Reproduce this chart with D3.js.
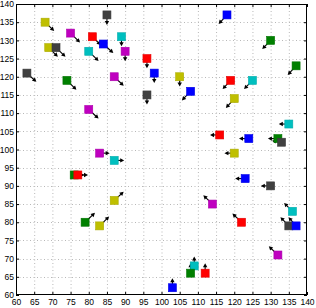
<!DOCTYPE html>
<html><head><meta charset="utf-8">
<script src="https://cdn.jsdelivr.net/npm/d3@7"></script>
<style>body{margin:0;background:#fff}svg{display:block}text{font-family:"Liberation Sans",Arial,sans-serif;font-size:8.5px;fill:#000}</style>
</head><body><svg id="c" width="316" height="308"></svg>
<script>
// data
const groups = ["olive","purple","gray","red","blue","cyan","green"];
const groupColors = ["#bfbf00","#bf00bf","#404040","#ff0000","#0000ff","#00bfbf","#008000"];
const xs = [68,75,85,81,84,89,69,71,80,90,96,98,63,74,87,96,118,130,137,119,125,105,108,120,80,83,87,76,77,87,135,116,124,132,133,120,123,130,114,136,79,83,122,135,137,132,109,108,112,103];
const ys = [135,132,137,131,129,131,128,128,127,127,125,121,121,119,120,115,137,130,123,119,119,120,116,114,111,99,97,93,93,86,107,104,103,103,102,99,92,90,85,83,80,79,80,79,79,71,68,66,66,62];
const us = [2.5,2.6,0,2.3,2.75,0,2.5,2.6,2.7,0,0,0,2.6,2.6,2.6,0,-2.3,-2.3,-2.3,-2.2,-2.3,0,-2.4,-2.3,2.7,2.75,2.75,2.75,2.8,2.6,-2.75,-2.65,-2.7,-2.75,-2.6,-2.7,-2.75,-2.7,-2.5,-2.3,2.7,2.6,-2.5,-2.3,-2.1,-2.5,0,0,0,0];
const vs = [-2.4,-2.6,-2.75,-2.3,-2.5,-2.6,-2.5,-2.5,-2.7,-2.75,-2.65,-2.75,-2.4,-2.6,-2.5,-2.6,-2.5,-2.4,-2.5,-2.4,-2.4,-2.7,-2.5,-2.6,-2.5,0,0,0,0,2.4,0,0,0,0,0.4,0,0,0,2.4,2.3,2.6,2.6,2.4,2.4,2.4,2.4,2.6,2.7,2.7,2.6];
const grp = ["olive","purple","gray","red","blue","cyan","olive","gray","cyan","purple","red","blue","gray","green","purple","gray","blue","green","green","red","cyan","olive","blue","olive","purple","purple","cyan","green","red","olive","cyan","red","blue","green","gray","olive","blue","gray","purple","cyan","green","olive","red","gray","blue","purple","cyan","green","red","blue"];
const xTicks = d3.range(60,141,5);
const yTicks = d3.range(60,141,5);

const svg = d3.select("#c");
const L=16, R=307, T=4, B=295;
const x = d3.scaleLinear().domain([60,140]).range([L,R]);
const y = d3.scaleLinear().domain([60,140]).range([B,T]);
const color = d3.scaleOrdinal().domain(groups).range(groupColors);

// grid
const g = svg.append("g");
g.selectAll("line.gx").data(xTicks.slice(1,-1)).join("line")
  .attr("x1",d=>x(d)+0.5).attr("x2",d=>x(d)+0.5).attr("y1",T).attr("y2",B)
  .attr("stroke","#b8b8b8").attr("stroke-width",1).attr("stroke-dasharray","1,2.5");
g.selectAll("line.gy").data(yTicks.slice(1,-1)).join("line")
  .attr("y1",d=>Math.round(y(d))+0.5).attr("y2",d=>Math.round(y(d))+0.5).attr("x1",L).attr("x2",R)
  .attr("stroke","#b8b8b8").attr("stroke-width",1).attr("stroke-dasharray","1,2.5");

// axes
const ax = d3.axisBottom(x).tickValues(xTicks).tickSize(-3).tickPadding(4);
const ay = d3.axisLeft(y).tickValues(yTicks).tickSize(-3).tickPadding(2);
const axT = d3.axisTop(x).tickValues(xTicks).tickSize(-3).tickFormat("");
const ayR = d3.axisRight(y).tickValues(yTicks).tickSize(-3).tickFormat("");
function style(sel){sel.select(".domain").remove();sel.selectAll("line").attr("stroke","#000");sel.selectAll("text").attr("font-size",8.5).attr("font-family","Liberation Sans, Arial, sans-serif");}
svg.append("g").attr("transform",`translate(0,${B})`).call(ax).call(style);
svg.append("g").attr("transform",`translate(${L},0)`).call(ay).call(style);
svg.append("g").attr("transform",`translate(0,${T})`).call(axT).call(style);
svg.append("g").attr("transform",`translate(${R},0)`).call(ayR).call(style);
svg.append("rect").attr("x",L+0.5).attr("y",T+0.5).attr("width",R-L-1).attr("height",B-T-1)
  .attr("fill","none").attr("stroke","#000").attr("stroke-width",1);

// arrows
const idx = d3.range(xs.length);
const ag = svg.append("g");
idx.forEach(i=>{
  const x0=x(xs[i]), y0=y(ys[i]);
  const x1=x(xs[i]+us[i]), y1=y(ys[i]+vs[i]);
  const ang=Math.atan2(y1-y0,x1-x0);
  const hl=4, hw=2.2;
  ag.append("line").attr("x1",x0).attr("y1",y0).attr("x2",x1-Math.cos(ang)*2).attr("y2",y1-Math.sin(ang)*2)
    .attr("stroke","#000").attr("stroke-width",1.1);
  const bx=x1-Math.cos(ang)*hl, by=y1-Math.sin(ang)*hl;
  const px=-Math.sin(ang)*hw, py=Math.cos(ang)*hw;
  ag.append("path").attr("d",`M${x1},${y1}L${bx+px},${by+py}L${bx-px},${by-py}Z`).attr("fill","#000");
});

// squares
svg.append("g").selectAll("rect").data(idx).join("rect")
  .attr("x",i=>x(xs[i])-4).attr("y",i=>y(ys[i])-4).attr("width",8).attr("height",8)
  .attr("fill",i=>color(grp[i])).attr("stroke",i=>d3.color(color(grp[i])).darker(0.3)).attr("stroke-width",0.6);
</script></body></html>
